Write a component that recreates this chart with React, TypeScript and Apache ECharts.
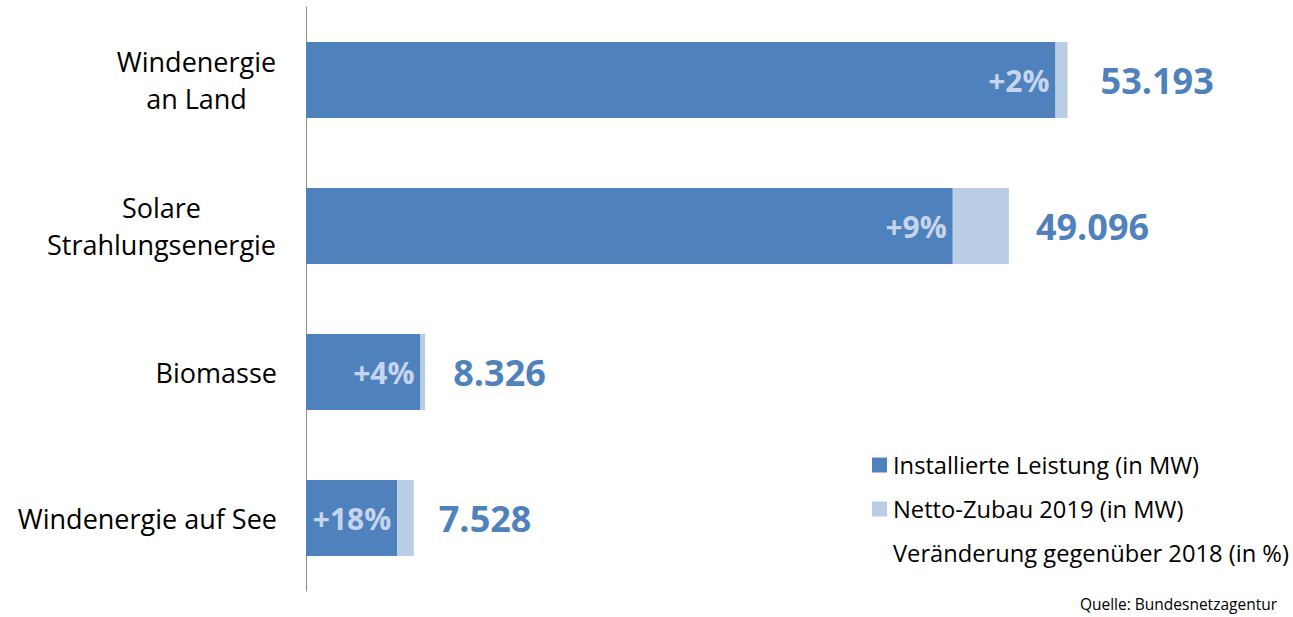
import React, { useEffect, useRef } from "react";
import * as echarts from "echarts";

const categories = ["Windenergie\nan Land", "Solare\nStrahlungsenergie", "Biomasse", "Windenergie auf See"];
const installed = [52353, 45176, 7996, 6378];
const netAdd = [840, 3920, 330, 1150];
const totalLabels = ["53.193", "49.096", "8.326", "7.528"];
const changeLabels = ["+2%", "+9%", "+4%", "+18%"];
const seriesNames = ["Installierte Leistung (in MW)", "Netto-Zubau 2019 (in MW)", "Veränderung gegenüber 2018 (in %)"];
// gap in px between bar end and total label (styling only)
const totalLabelGaps = [33, 27, 28, 25];

const FONT = "'Open Sans', 'Noto Sans', sans-serif";
const LABEL_SIZE = 27;

function measure(text: string, font: string): number {
  const c = document.createElement("canvas").getContext("2d");
  if (!c) return text.length * 13;
  c.font = font;
  return c.measureText(text).width;
}

export default function App() {
  const ref = useRef<HTMLDivElement>(null);
  useEffect(() => {
    if (!ref.current) return;
    const chart = echarts.init(ref.current, undefined, { renderer: "svg" });
    const labelFont = `${LABEL_SIZE}px ${FONT}`;
    const rich: Record<string, any> = {};
    const widthKey = (lines: string[]) => {
      const w = Math.ceil(Math.max(...lines.map((l) => measure(l, labelFont)))) + 1;
      return { w, key: "c" + w };
    };
    categories.forEach((c) => {
      const lines = c.split("\n");
      if (lines.length > 1) {
        const { w, key } = widthKey(lines);
        rich[key] = {
          width: w,
          align: "center",
          fontSize: LABEL_SIZE,
          fontFamily: FONT,
          color: "#000",
          lineHeight: 37,
        };
      }
    });
    const formatter = (v: string) => {
      const lines = v.split("\n");
      if (lines.length === 1) return v;
      const { key } = widthKey(lines);
      return lines.map((l) => `{${key}|${l}}`).join("\n");
    };
    chart.setOption({
      animation: false,
      textStyle: { fontFamily: FONT },
      grid: { left: 306, right: 128, top: 7, bottom: 26, containLabel: false },
      xAxis: {
        type: "value",
        min: 0,
        max: 60000,
        show: false,
      },
      yAxis: {
        type: "category",
        data: categories,
        inverse: true,
        axisLine: { show: true, lineStyle: { color: "#8c8c8c", width: 1 } },
        axisTick: { show: false },
        axisLabel: {
          margin: 29,
          fontSize: LABEL_SIZE,
          fontFamily: FONT,
          color: "#000",
          lineHeight: 37,
          formatter,
          rich,
        },
      },
      legend: {
        orient: "vertical",
        left: 872,
        top: 451,
        padding: 0,
        itemWidth: 15,
        itemHeight: 15,
        itemGap: 16,
        icon: "rect",
        selectedMode: false,
        textStyle: { fontSize: 23.7, fontFamily: FONT, color: "#000", lineHeight: 28, padding: [0, 0, 0, 1] },
        data: seriesNames,
      },
      series: [
        {
          name: seriesNames[0],
          type: "bar",
          stack: "total",
          barWidth: 76,
          data: installed,
          itemStyle: { color: "#4f81bd" },
          label: {
            show: true,
            position: "insideRight",
            distance: 6,
            formatter: (p: any) => changeLabels[p.dataIndex],
            color: "#c6d5eb",
            fontSize: 30,
            fontWeight: "bold",
            fontFamily: FONT,
          },
        },
        {
          name: seriesNames[1],
          type: "bar",
          stack: "total",
          barWidth: 76,
          data: netAdd.map((v, i) => ({ value: v, label: { distance: totalLabelGaps[i] } })),
          itemStyle: { color: "#b9cde5" },
          label: {
            show: true,
            position: "right",
            formatter: (p: any) => totalLabels[p.dataIndex],
            color: "#4f81bd",
            fontSize: 36,
            fontWeight: "bold",
            fontFamily: FONT,
          },
        },
        {
          name: seriesNames[2],
          type: "bar",
          stack: "total",
          data: [],
          itemStyle: { color: "rgba(255,255,255,0)" },
        },
      ],
      graphic: [
        {
          type: "text",
          right: 16,
          top: 596,
          style: {
            text: "Quelle: Bundesnetzagentur",
            fontSize: 15.5,
            fontFamily: FONT,
            fill: "#000",
          },
        },
      ],
    });
    return () => chart.dispose();
  }, []);
  return (
    <div
      ref={ref}
      style={{ position: "absolute", left: 0, top: 0, width: 1293, height: 617, background: "#fff" }}
    />
  );
}
